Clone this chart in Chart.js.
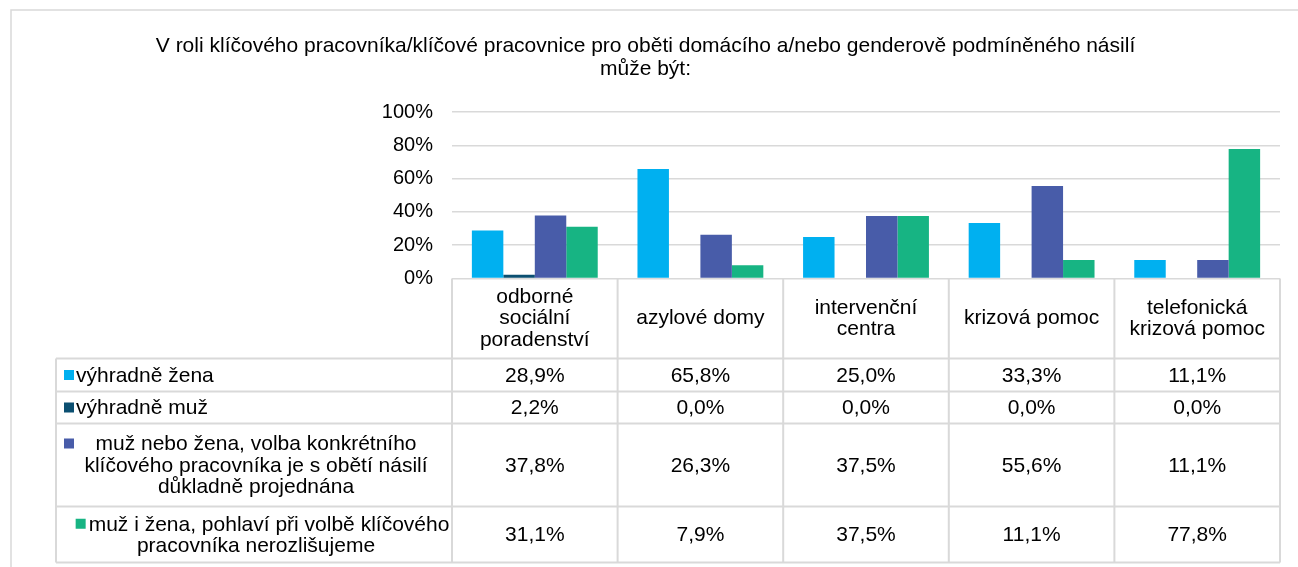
<!DOCTYPE html>
<html>
<head>
<meta charset="utf-8">
<script src="https://cdn.jsdelivr.net/npm/chart.js@4/dist/chart.umd.min.js"></script>
<style>
  html, body { margin: 0; background: #fff; }
  #wrap { width: 1298px; height: 567px; }
</style>
</head>
<body>
<div id="wrap"><canvas id="chart" width="1298" height="567"></canvas></div>
<script>
// Chart data
const titleLines = [
    'V roli klíčového pracovníka/klíčové pracovnice pro oběti domácího a/nebo genderově podmíněného násilí',
    'může být:'
];
const categories = [
    ['odborné', 'sociální', 'poradenství'],
    ['azylové domy'],
    ['intervenční', 'centra'],
    ['krizová pomoc'],
    ['telefonická', 'krizová pomoc']
];
const seriesNames = [
    ['výhradně žena'],
    ['výhradně muž'],
    ['muž nebo žena, volba konkrétního', 'klíčového pracovníka je s obětí násilí', 'důkladně projednána'],
    ['muž i žena, pohlaví při volbě klíčového', 'pracovníka nerozlišujeme']
];
const vyhradneZena = [28.9, 65.8, 25.0, 33.3, 11.1];
const vyhradneMuz = [2.2, 0.0, 0.0, 0.0, 0.0];
const muzNeboZena = [37.8, 26.3, 37.5, 55.6, 11.1];
const muzIZena = [31.1, 7.9, 37.5, 11.1, 77.8];
const yTicks = [0, 20, 40, 60, 80, 100];

const seriesColors = ['#00B0F0', '#0B4F71', '#485CA9', '#17B483'];
const FONT = '"Liberation Sans", Arial, sans-serif';
const FONT_SIZE = 21;
const LINE_COLOR = '#D9D9D9';

const seriesValues = [vyhradneZena, vyhradneMuz, muzNeboZena, muzIZena];

function fmt(v) {
    return v.toFixed(1).replace('.', ',') + '%';
}

// outer frame + data table drawn under the plot
const tablePlugin = {
    id: 'dataTable',
    beforeDraw(chart) {
        const ctx = chart.ctx;
        ctx.save();
        ctx.strokeStyle = LINE_COLOR;
        ctx.lineWidth = 1.5;
        ctx.strokeRect(11, 10, 1400, 700);
        ctx.restore();
    },
    afterDraw(chart) {
        const { ctx, chartArea } = chart;
        const x = chart.scales.x;
        const n = categories.length;
        const colW = chartArea.width / n;
        const edges = [];
        for (let i = 0; i <= n; i++) edges.push(chartArea.left + i * colW);
        const tableLeft = 56;
        const rowH = [80, 33, 32, 83, 56];
        const rowTops = [chartArea.bottom];
        rowH.forEach(h => rowTops.push(rowTops[rowTops.length - 1] + h));
        const lineH = 21.5;

        ctx.save();
        ctx.strokeStyle = LINE_COLOR;
        ctx.lineWidth = 2;
        ctx.beginPath();
        // header row: only column separators
        edges.forEach(ex => {
            ctx.moveTo(ex, rowTops[0]);
            ctx.lineTo(ex, rowTops[1]);
        });
        // data rows: full grid
        for (let r = 1; r < rowTops.length; r++) {
            ctx.moveTo(tableLeft, rowTops[r]);
            ctx.lineTo(chartArea.right, rowTops[r]);
        }
        [tableLeft].concat(edges).forEach(ex => {
            ctx.moveTo(ex, rowTops[1]);
            ctx.lineTo(ex, rowTops[rowTops.length - 1]);
        });
        ctx.stroke();

        ctx.fillStyle = '#000';
        ctx.font = FONT_SIZE + 'px ' + FONT;
        ctx.textAlign = 'center';
        ctx.textBaseline = 'middle';

        // category headers
        categories.forEach((lines, i) => {
            const cx = x.getPixelForValue(i);
            const cy = (rowTops[0] + rowTops[1]) / 2;
            lines.forEach((t, k) => {
                ctx.fillText(t, cx, cy + (k - (lines.length - 1) / 2) * lineH);
            });
        });

        // series rows
        seriesNames.forEach((lines, s) => {
            const top = rowTops[s + 1];
            const cy = (top + rowTops[s + 2]) / 2;
            const key = 10;
            ctx.textAlign = 'left';
            if (lines.length === 1) {
                ctx.fillStyle = seriesColors[s];
                ctx.fillRect(64, cy - key / 2, key, key);
                ctx.fillStyle = '#000';
                ctx.fillText(lines[0], 76, cy + 1);
            } else {
                const cellCx = (tableLeft + edges[0]) / 2 + 2;
                lines.forEach((t, k) => {
                    const ly = cy + (k - (lines.length - 1) / 2) * lineH;
                    const w = ctx.measureText(t).width;
                    let lx = cellCx - w / 2;
                    if (k === 0) {
                        let kx = 64;
                        if (lx - 14 < kx) {
                            lx = cellCx - (w + key + 4) / 2 + key + 4 + 6;
                            kx = lx - key - 3;
                        }
                        ctx.fillStyle = seriesColors[s];
                        ctx.fillRect(kx, ly - key / 2, key, key);
                        ctx.fillStyle = '#000';
                    }
                    ctx.fillText(t, lx, ly + 1);
                });
            }
            ctx.textAlign = 'center';
            seriesValues[s].forEach((v, i) => {
                ctx.fillText(fmt(v), x.getPixelForValue(i), cy + 1);
            });
        });
        ctx.restore();
    }
};

const datasets = seriesValues.map((vals, s) => ({
    label: seriesNames[s].join(' '),
    data: vals,
    backgroundColor: seriesColors[s],
    borderWidth: 0,
    categoryPercentage: 0.76,
    barPercentage: 1.0
}));

new Chart(document.getElementById('chart').getContext('2d'), {
    type: 'bar',
    data: {
        labels: categories,
        datasets: datasets
    },
    options: {
        responsive: false,
        animation: false,
        devicePixelRatio: 1,
        layout: {
            padding: { left: 11, right: 18, top: 0, bottom: 0 }
        },
        plugins: {
            legend: { display: false },
            tooltip: { enabled: false },
            title: {
                display: true,
                text: titleLines,
                color: '#000',
                font: { family: FONT, size: 21, weight: 'normal', lineHeight: '23px' },
                padding: { top: 35, bottom: 31 }
            }
        },
        scales: {
            x: {
                grid: { display: false },
                border: { display: false },
                ticks: { display: false },
                afterFit(scale) { scale.height = 567 - 278.5; }
            },
            y: {
                min: yTicks[0],
                max: yTicks[yTicks.length - 1],
                afterBuildTicks(scale) { scale.ticks = yTicks.map(v => ({ value: v })); },
                ticks: {
                    padding: 19,
                    color: '#000',
                    font: { family: FONT, size: 20 },
                    callback: v => v + '%'
                },
                grid: { color: LINE_COLOR, lineWidth: 1.5, drawTicks: false },
                border: { display: false },
                afterFit(scale) { scale.width = 452 - 11; }
            }
        }
    },
    plugins: [tablePlugin]
});
</script>
</body>
</html>
